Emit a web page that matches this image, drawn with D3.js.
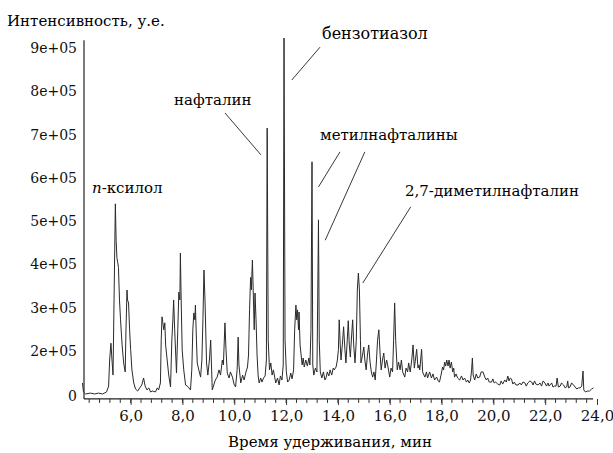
<!DOCTYPE html>
<head>
  <meta charset="utf-8">
  <title>хроматограмма</title>
  <style>
    body { margin: 0; background: #fff; }
  </style>
</head>
<body>
<script src="https://cdn.jsdelivr.net/npm/d3@7"></script>
<script>
// retention time, min
var times = [
  4.14,4.18,4.26,4.45,4.61,4.76,4.92,5.07,5.15,5.19,5.24,5.28,5.32,5.36,5.41,5.44,5.47,5.50,5.53,5.57,
  5.61,5.67,5.73,5.79,5.82,5.86,5.88,5.92,5.96,6.00,6.05,6.12,6.19,6.27,6.35,6.43,6.50,6.56,6.63,6.70,
  6.77,6.85,6.96,7.03,7.08,7.15,7.18,7.21,7.24,7.28,7.32,7.35,7.41,7.47,7.54,7.59,7.63,7.66,7.70,7.77,
  7.82,7.86,7.90,7.92,7.95,7.99,8.05,8.12,8.19,8.25,8.31,8.36,8.40,8.44,8.48,8.50,8.54,8.57,8.63,8.70,
  8.75,8.79,8.83,8.87,8.93,8.98,9.04,9.09,9.12,9.15,9.22,9.27,9.34,9.41,9.47,9.54,9.58,9.64,9.68,9.73,
  9.80,9.85,9.93,9.99,10.05,10.11,10.15,10.18,10.25,10.32,10.38,10.44,10.51,10.55,10.59,10.63,10.66,10.70,10.74,10.77,
  10.80,10.84,10.88,10.92,10.96,11.02,11.07,11.13,11.19,11.24,11.27,11.31,11.36,11.41,11.46,11.51,11.60,11.67,11.73,11.78,
  11.84,11.89,11.92,11.96,12.01,12.06,12.12,12.18,12.23,12.29,12.33,12.38,12.41,12.44,12.48,12.50,12.54,12.58,12.62,12.66,
  12.70,12.76,12.82,12.88,12.92,12.96,13.00,13.03,13.07,13.13,13.19,13.22,13.25,13.28,13.32,13.38,13.44,13.50,13.55,13.59,
  13.65,13.70,13.76,13.82,13.86,13.93,13.98,14.02,14.05,14.09,14.12,14.17,14.22,14.27,14.31,14.36,14.40,14.44,14.48,14.53,
  14.57,14.61,14.66,14.71,14.75,14.79,14.83,14.87,14.89,14.95,15.00,15.04,15.09,15.14,15.19,15.24,15.29,15.34,15.39,15.44,
  15.49,15.53,15.58,15.63,15.67,15.72,15.77,15.82,15.88,15.92,16.00,16.05,16.11,16.15,16.19,16.23,16.29,16.34,16.40,16.45,
  16.50,16.58,16.63,16.69,16.73,16.79,16.85,16.90,16.95,16.99,17.04,17.09,17.13,17.16,17.23,17.27,17.30,17.36,17.42,17.46,
  17.54,17.61,17.67,17.73,17.81,17.87,17.92,17.98,18.04,18.08,18.12,18.16,18.20,18.25,18.29,18.33,18.38,18.43,18.47,18.50,
  18.56,18.62,18.70,18.77,18.83,18.89,18.96,19.01,19.07,19.12,19.16,19.19,19.22,19.28,19.34,19.40,19.47,19.53,19.60,19.67,
  19.73,19.78,19.84,19.93,19.98,20.03,20.09,20.17,20.25,20.30,20.36,20.44,20.50,20.56,20.60,20.65,20.70,20.75,20.81,20.87,
  20.96,21.02,21.08,21.14,21.22,21.27,21.33,21.41,21.48,21.53,21.59,21.64,21.73,21.80,21.86,21.92,21.99,22.05,22.11,22.15,
  22.25,22.30,22.36,22.42,22.46,22.51,22.58,22.63,22.71,22.77,22.83,22.87,22.90,22.96,23.02,23.09,23.16,23.22,23.28,23.35,
  23.41,23.46,23.49,23.55,23.63,23.71,23.79,23.86
];
// intensity, a.u.
var intensities = [
  58000,18000,9000,13000,9000,13000,9000,18000,44000,160000,218000,160000,93000,318000,540000,456000,416000,405000,393000,318000,
  272000,214000,147000,107000,249000,341000,318000,311000,249000,204000,116000,58000,31000,22000,36000,49000,80000,44000,27000,36000,
  18000,22000,18000,36000,27000,58000,225000,279000,267000,249000,265000,214000,160000,93000,40000,225000,272000,318000,249000,102000,
  249000,336000,318000,426000,318000,202000,116000,49000,44000,36000,27000,116000,249000,288000,272000,306000,225000,147000,116000,84000,
  160000,272000,387000,318000,147000,93000,160000,225000,138000,27000,53000,71000,84000,116000,93000,160000,138000,265000,204000,102000,
  80000,107000,84000,53000,40000,116000,232000,138000,58000,93000,71000,102000,129000,182000,295000,370000,341000,410000,318000,249000,
  334000,272000,182000,93000,58000,80000,62000,80000,89000,160000,715000,225000,116000,147000,93000,116000,58000,80000,49000,89000,
  71000,138000,923000,225000,107000,62000,71000,102000,76000,116000,249000,306000,272000,295000,249000,290000,214000,182000,138000,169000,
  129000,160000,133000,169000,138000,249000,637000,138000,93000,124000,107000,318000,503000,225000,107000,80000,107000,71000,84000,107000,
  89000,116000,93000,124000,116000,129000,160000,204000,272000,214000,160000,214000,256000,204000,147000,225000,270000,214000,173000,237000,
  272000,214000,147000,225000,341000,380000,341000,225000,147000,182000,209000,160000,116000,182000,214000,151000,107000,84000,107000,71000,
  160000,225000,249000,182000,116000,160000,191000,124000,160000,138000,84000,124000,107000,225000,311000,225000,116000,151000,116000,160000,
  107000,84000,124000,107000,147000,107000,160000,214000,124000,160000,204000,124000,138000,116000,204000,107000,98000,84000,107000,80000,
  107000,80000,98000,71000,84000,67000,62000,93000,129000,116000,151000,133000,160000,133000,160000,124000,151000,107000,124000,84000,
  98000,80000,71000,89000,71000,80000,62000,71000,58000,71000,116000,169000,93000,71000,98000,80000,84000,107000,107000,84000,
  71000,80000,62000,62000,76000,58000,62000,53000,49000,67000,53000,71000,62000,89000,67000,80000,76000,53000,62000,49000,
  49000,58000,49000,62000,58000,44000,58000,67000,62000,49000,67000,53000,49000,58000,44000,67000,58000,44000,58000,44000,
  58000,40000,44000,44000,80000,40000,44000,58000,49000,36000,40000,67000,36000,40000,58000,49000,40000,31000,36000,36000,
  44000,111000,27000,18000,22000,22000,31000,36000
];

var xTicks = [6, 8, 10, 12, 14, 16, 18, 20, 22, 24];
var yTicks = [0, 200000, 300000, 400000, 500000, 600000, 700000, 800000, 900000];
var yTickLabels = ["0", "2e+05", "3e+05", "4e+05", "5e+05", "6e+05", "7e+05", "8e+05", "9e+05"];

var yLabel = "Интенсивность, у.е.";
var xLabel = "Время удерживания, мин";

// compound labels: text + leader line given in data units (time, intensity)
var compounds = ["нафталин", "бензотиазол", "метилнафталины", "2,7-диметилнафталин"];
var leaders = [
  [[9.64, 750000], [11.03, 653000]],
  [[13.31, 902000], [12.22, 826000]],
  [[14.08, 660000], [13.25, 579000]],
  [[15.04, 660000], [13.51, 456000]],
  [[16.81, 533000], [14.96, 357000]]
];

var width = 613, height = 453;
var serif = '"DejaVu Serif", serif';

var svg = d3.select("body").append("svg")
    .attr("width", width)
    .attr("height", height);

var x = d3.scaleLinear().domain([4.2, 24]).range([84, 597]);
// the original axis is compressed below 2e+05
var y = d3.scaleLinear().domain([0, 200000, 900000]).range([396, 351, 48]);

var yMin = -13000, yMax = 918000;

// axes lines
svg.append("line")
    .attr("x1", x(4.2)).attr("x2", x(4.2))
    .attr("y1", y(yMin)).attr("y2", y(yMax))
    .attr("stroke", "#222").attr("stroke-width", 1.2);

var xAxisG = svg.append("g")
    .attr("transform", "translate(0," + y(yMin) + ")");

xAxisG.append("line")
    .attr("x1", x(4.2)).attr("x2", x(23.85))
    .attr("stroke", "#222").attr("stroke-width", 1.2);

// minor ticks
var minor = d3.range(4.4, 23.9, 0.4);
xAxisG.selectAll(".minor")
    .data(minor)
  .enter().append("line")
    .attr("class", "minor")
    .attr("x1", function(d) { return x(d); })
    .attr("x2", function(d) { return x(d); })
    .attr("y1", 0).attr("y2", 4)
    .attr("stroke", "#333");

var xAxis = d3.axisBottom(x)
    .tickValues(xTicks)
    .tickSize(6)
    .tickPadding(5)
    .tickFormat(function(d) { return d.toFixed(1).replace(".", ","); });

var xg = xAxisG.append("g").call(xAxis);
xg.attr("font-family", serif).attr("font-size", 15);
xg.select(".domain").remove();
xg.selectAll(".tick line").attr("stroke", "#333");
xg.selectAll(".tick text").attr("fill", "#111");

var yAxis = d3.axisLeft(y)
    .tickValues(yTicks)
    .tickSize(0)
    .tickPadding(7)
    .tickFormat(function(d, i) { return yTickLabels[i]; });

var yg = svg.append("g")
    .attr("transform", "translate(" + x(4.2) + ",0)")
    .call(yAxis);
yg.attr("font-family", serif).attr("font-size", 14);
yg.select(".domain").remove();
yg.selectAll(".tick text").attr("fill", "#111");

// chromatogram
var pts = times.map(function(t, i) { return [t, intensities[i]]; });
var line = d3.line()
    .x(function(d) { return x(d[0]); })
    .y(function(d) { return y(d[1]); });

svg.append("path")
    .datum(pts)
    .attr("d", line)
    .attr("fill", "none")
    .attr("stroke", "#2a2a2a")
    .attr("stroke-width", 1)
    .attr("stroke-linejoin", "miter");

// leader lines
svg.selectAll(".leader")
    .data(leaders)
  .enter().append("line")
    .attr("class", "leader")
    .attr("x1", function(d) { return x(d[0][0]); })
    .attr("y1", function(d) { return y(d[0][1]); })
    .attr("x2", function(d) { return x(d[1][0]); })
    .attr("y2", function(d) { return y(d[1][1]); })
    .attr("stroke", "#222")
    .attr("stroke-width", 0.9);

// titles
svg.append("text")
    .attr("x", 7).attr("y", 26)
    .attr("font-family", serif)
    .attr("font-size", 15)
    .text(yLabel);

svg.append("text")
    .attr("x", 330).attr("y", 447)
    .attr("text-anchor", "middle")
    .attr("font-family", serif)
    .attr("font-size", 15)
    .text(xLabel);

// compound labels
var labelPos = [[174, 105], [322, 39], [320, 140], [405, 196]];
var labelSize = [15, 16, 15, 15];
svg.selectAll(".clabel")
    .data(compounds)
  .enter().append("text")
    .attr("class", "clabel")
    .attr("x", function(d, i) { return labelPos[i][0]; })
    .attr("y", function(d, i) { return labelPos[i][1]; })
    .attr("font-family", serif)
    .attr("font-size", function(d, i) { return labelSize[i]; })
    .text(function(d) { return d; });

var xyl = svg.append("text")
    .attr("x", 92).attr("y", 193)
    .attr("font-family", serif)
    .attr("font-size", 15);
xyl.append("tspan").attr("font-style", "italic").text("n");
xyl.append("tspan").text("-ксилол");
</script>
</body>
